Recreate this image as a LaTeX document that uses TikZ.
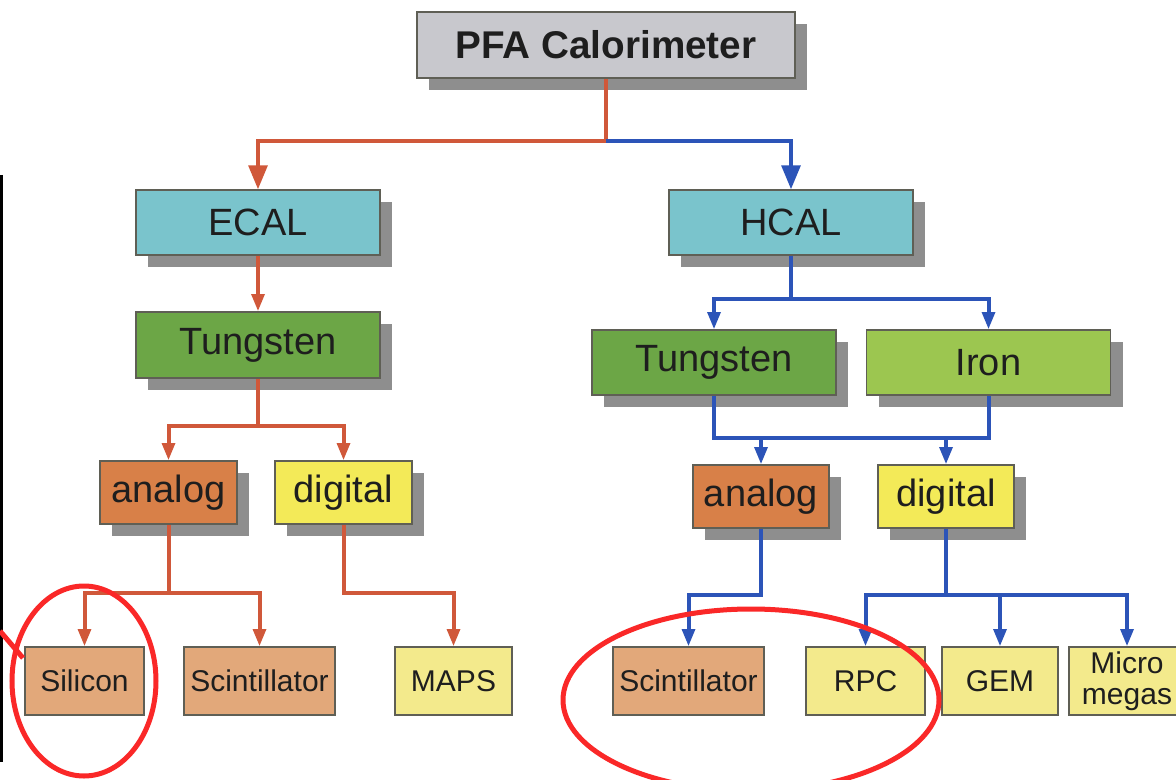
\documentclass[tikz,border=0pt]{standalone}
\usepackage{fontspec}
\setmainfont{Liberation Sans}
\usetikzlibrary{arrows.meta,shadows}
\tikzset{every picture/.style={line width=0.75pt}}

\definecolor{boxline}{RGB}{95,95,85}
\definecolor{shade}{RGB}{142,142,142}
\definecolor{topgray}{RGB}{200,200,205}
\definecolor{calteal}{RGB}{122,196,204}
\definecolor{wgreen}{RGB}{108,166,70}
\definecolor{fegreen}{RGB}{156,198,80}
\definecolor{anaorange}{RGB}{216,128,72}
\definecolor{digyellow}{RGB}{243,234,88}
\definecolor{paleorange}{RGB}{226,168,122}
\definecolor{paleyellow}{RGB}{243,234,140}
\definecolor{redwire}{RGB}{208,88,58}
\definecolor{bluewire}{RGB}{44,84,184}
\definecolor{markred}{RGB}{250,40,40}
\definecolor{txt}{RGB}{30,30,30}

\tikzset{
  box/.style={draw=boxline, line width=1pt, text=txt, inner sep=0pt, align=center,
    font=\fontsize{28.5}{34}\selectfont},
  shbox/.style={box, drop shadow={shadow xshift=9pt, shadow yshift=-9pt, fill=shade, opacity=1}},
  leaf/.style={box, minimum height=51pt, font=\fontsize{22.5}{23.5}\selectfont},
  redc/.style={draw=redwire, line width=3pt, -{Triangle[length=13pt,width=9.5pt]}},
  bluec/.style={draw=bluewire, line width=3pt, -{Triangle[length=13pt,width=9.5pt]}},
  bigtip/.style={-{Triangle[length=18pt,width=14pt]}},
}

\begin{document}
\begin{tikzpicture}[x=0.75pt,y=0.75pt,yscale=-1,xscale=1]
\useasboundingbox (0,0) rectangle (1176,780);
\fill[white] (0,0) rectangle (1176,780);

% Text Node
\node[shbox, fill=topgray, minimum width=283.5pt, minimum height=49.5pt,
  font=\fontsize{29}{34}\selectfont\bfseries] (pfa) at (606,45) {PFA Calorimeter};

% ECAL branch
\node[shbox, fill=calteal, minimum width=183pt, minimum height=48.75pt] (ecal) at (258,222.5) {ECAL};
\node[shbox, fill=wgreen, minimum width=183pt, minimum height=49.5pt] (wecal) at (258,345) {Tungsten};
\node[shbox, fill=anaorange, minimum width=102.75pt, minimum height=47.25pt] (anaecal) at (168.5,492.5) {analog};
\node[shbox, fill=digyellow, minimum width=102.75pt, minimum height=47.25pt] (digecal) at (343.5,492.5) {digital};
\node[leaf, fill=paleorange, minimum width=89.25pt] (silicon) at (84.5,681) {Silicon};
\node[leaf, fill=paleorange, minimum width=113.25pt] (scintecal) at (259.5,681) {Scintillator};
\node[leaf, fill=paleyellow, minimum width=87.75pt] (maps) at (453.5,681) {MAPS};

% HCAL branch
\node[shbox, fill=calteal, minimum width=183pt, minimum height=48.75pt] (hcal) at (791,222.5) {HCAL};
\node[shbox, fill=wgreen, minimum width=183pt, minimum height=48.75pt] (whcal) at (714,362.5) {Tungsten};
\node[shbox, fill=fegreen, minimum width=183pt, minimum height=48.75pt] (iron) at (988.5,362.5) {Iron};
\node[shbox, fill=anaorange, minimum width=102pt, minimum height=47.25pt] (anahcal) at (761,496.5) {analog};
\node[shbox, fill=digyellow, minimum width=102pt, minimum height=47.25pt] (dighcal) at (946,496.5) {digital};
\node[leaf, fill=paleorange, minimum width=113.25pt] (scinthcal) at (688.5,681) {Scintillator};
\node[leaf, fill=paleyellow, minimum width=89.25pt] (rpc) at (865.5,681) {RPC};
\node[leaf, fill=paleyellow, minimum width=87pt] (gem) at (1000,681) {GEM};
\node[leaf, fill=paleyellow, minimum width=87pt] (micro) at (1127,681) {Micro\\megas};

%Straight Lines: red side
\draw[redc, bigtip] (pfa.south) -- ++(0,62) coordinate (split0) -| (ecal.north);
\draw[redc] (ecal.south) -- (wecal.north);
\draw[redc] (wecal.south) -- ++(0,47) coordinate (split1) -| (anaecal.north);
\draw[redc] (split1) -| (digecal.north);
\draw[redc] (anaecal.south) -- ++(0,68) coordinate (split2) -| (silicon.north);
\draw[redc] (split2) -| (scintecal.north);
\draw[redc] (digecal.south) -- ++(0,68) -| (maps.north);

%Straight Lines: blue side
\draw[bluec, bigtip] (split0) -| (hcal.north);
\draw[bluec] (hcal.south) -- ++(0,43) coordinate (split3) -| (whcal.north);
\draw[bluec] (split3) -| (iron.north);
\draw[draw=bluewire, line width=3pt] (whcal.south) -- ++(0,42) coordinate (merge) -| (iron.south);
\draw[bluec] (merge -| anahcal.north) -- (anahcal.north);
\draw[bluec] (merge -| dighcal.north) -- (dighcal.north);
\draw[bluec] (anahcal.south) -- ++(0,66) -| (scinthcal.north);
\draw[bluec] (dighcal.south) -- ++(0,66) coordinate (split4) -| (rpc.north);
\draw[bluec] (split4) -| (gem.north);
\draw[bluec] (split4) -| (micro.north);

%Shape: marks drawn over the chart
\draw[black, line width=2.25pt] (1,175) -- (1,762);
\draw[markred, line width=3.75pt] (84,681) ellipse [x radius=72, y radius=95];
\draw[markred, line width=3.75pt] (751,700) ellipse [x radius=188, y radius=91];
\draw[markred, line width=3.75pt] (0,631) -- (23,658);

\end{tikzpicture}
\end{document}
